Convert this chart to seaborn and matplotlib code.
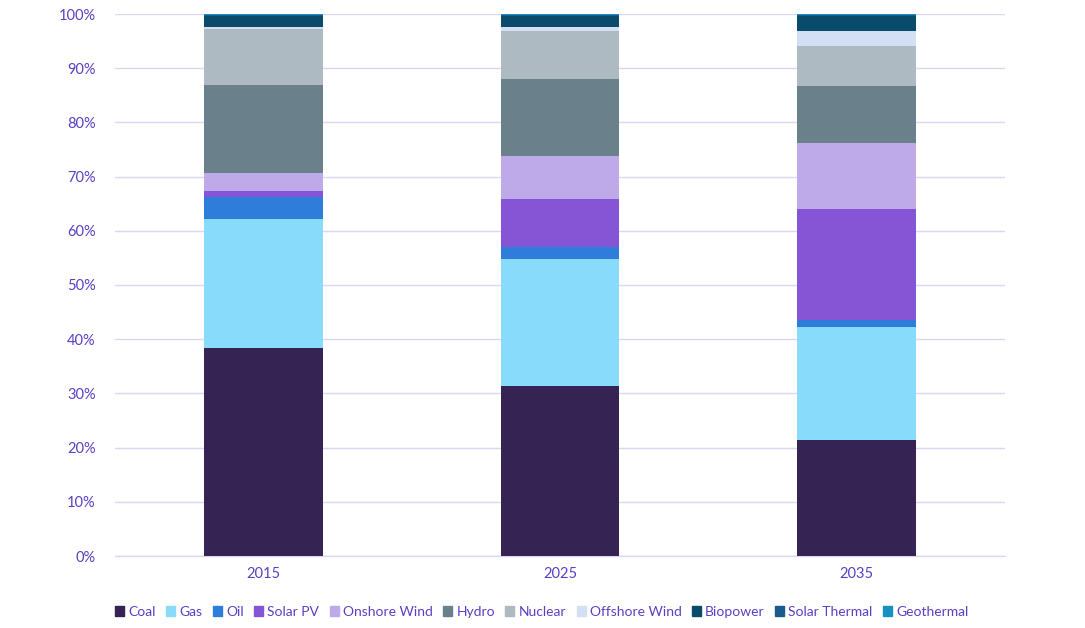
import numpy as np
import pandas as pd
import matplotlib.pyplot as plt
import matplotlib.patches as mpatches
import seaborn as sns

# Share of generation by source (%)
years = ['2015', '2025', '2035']
sources = ['Coal', 'Gas', 'Oil', 'Solar PV', 'Onshore Wind', 'Hydro', 'Nuclear',
           'Offshore Wind', 'Biopower', 'Solar Thermal', 'Geothermal']
coal = [38.4, 31.4, 21.4]
gas = [23.8, 23.4, 20.9]
oil = [4.0, 2.2, 1.2]
solar_pv = [1.1, 8.9, 20.5]
onshore_wind = [3.4, 7.9, 12.2]
hydro = [16.2, 14.2, 10.5]
nuclear = [10.3, 8.9, 7.4]
offshore_wind = [0.4, 0.7, 2.8]
biopower = [2.0, 2.0, 2.7]
solar_thermal = [0.2, 0.2, 0.2]
geothermal = [0.2, 0.2, 0.2]

colors = ['#352354', '#89dbfc', '#2e7ddb', '#8655d6', '#bfaae9', '#6a808b',
          '#adbac1', '#d3dff2', '#0a4a6a', '#1a5b8c', '#1690c0']

df = pd.DataFrame({'Year': years, 'Coal': coal, 'Gas': gas, 'Oil': oil,
                   'Solar PV': solar_pv, 'Onshore Wind': onshore_wind,
                   'Hydro': hydro, 'Nuclear': nuclear,
                   'Offshore Wind': offshore_wind, 'Biopower': biopower,
                   'Solar Thermal': solar_thermal, 'Geothermal': geothermal})
cum = df[sources].cumsum(axis=1)

sns.set_style('white')
plt.rcParams['font.family'] = ['Lato', 'DejaVu Sans']
label_color = '#5b3fc4'
grid_color = '#dcd6f2'

fig = plt.figure(figsize=(10.85, 6.28), dpi=100)
ax = fig.add_axes([115 / 1085, (628 - 556) / 628, 890 / 1085, (556 - 14) / 628])

# draw tallest cumulative layer first, then overlay the lower ones
for src, c in reversed(list(zip(sources, colors))):
    sns.barplot(x=df['Year'], y=cum[src], color=c, width=0.4, linewidth=0,
                saturation=1, ax=ax, zorder=2)

ax.set_xlim(-0.5, 2.5)
ax.set_ylim(0, 100)
ax.set_yticks(np.arange(0, 101, 10))
ax.set_yticklabels([f'{v}%' for v in range(0, 101, 10)])
ax.yaxis.grid(True, color=grid_color, linewidth=1, zorder=0)
ax.set_axisbelow(True)
for s in ax.spines.values():
    s.set_visible(False)
ax.axhline(0, color=grid_color, linewidth=1, zorder=0, clip_on=False)
ax.tick_params(axis='both', length=0, labelsize=10.5, colors=label_color, pad=14)
ax.tick_params(axis='x', pad=8)
ax.set_xlabel('')
ax.set_ylabel('')

handles = [mpatches.Patch(color=c, label=s) for s, c in zip(sources, colors)]
fig.legend(handles=handles, loc='center', bbox_to_anchor=(542 / 1085, 1 - 612 / 628),
           ncol=len(sources), frameon=False, handlelength=0.65, handleheight=0.7,
           handletextpad=0.3, columnspacing=0.75, fontsize=10, labelcolor=label_color)

fig.savefig('out.png', dpi=100)
